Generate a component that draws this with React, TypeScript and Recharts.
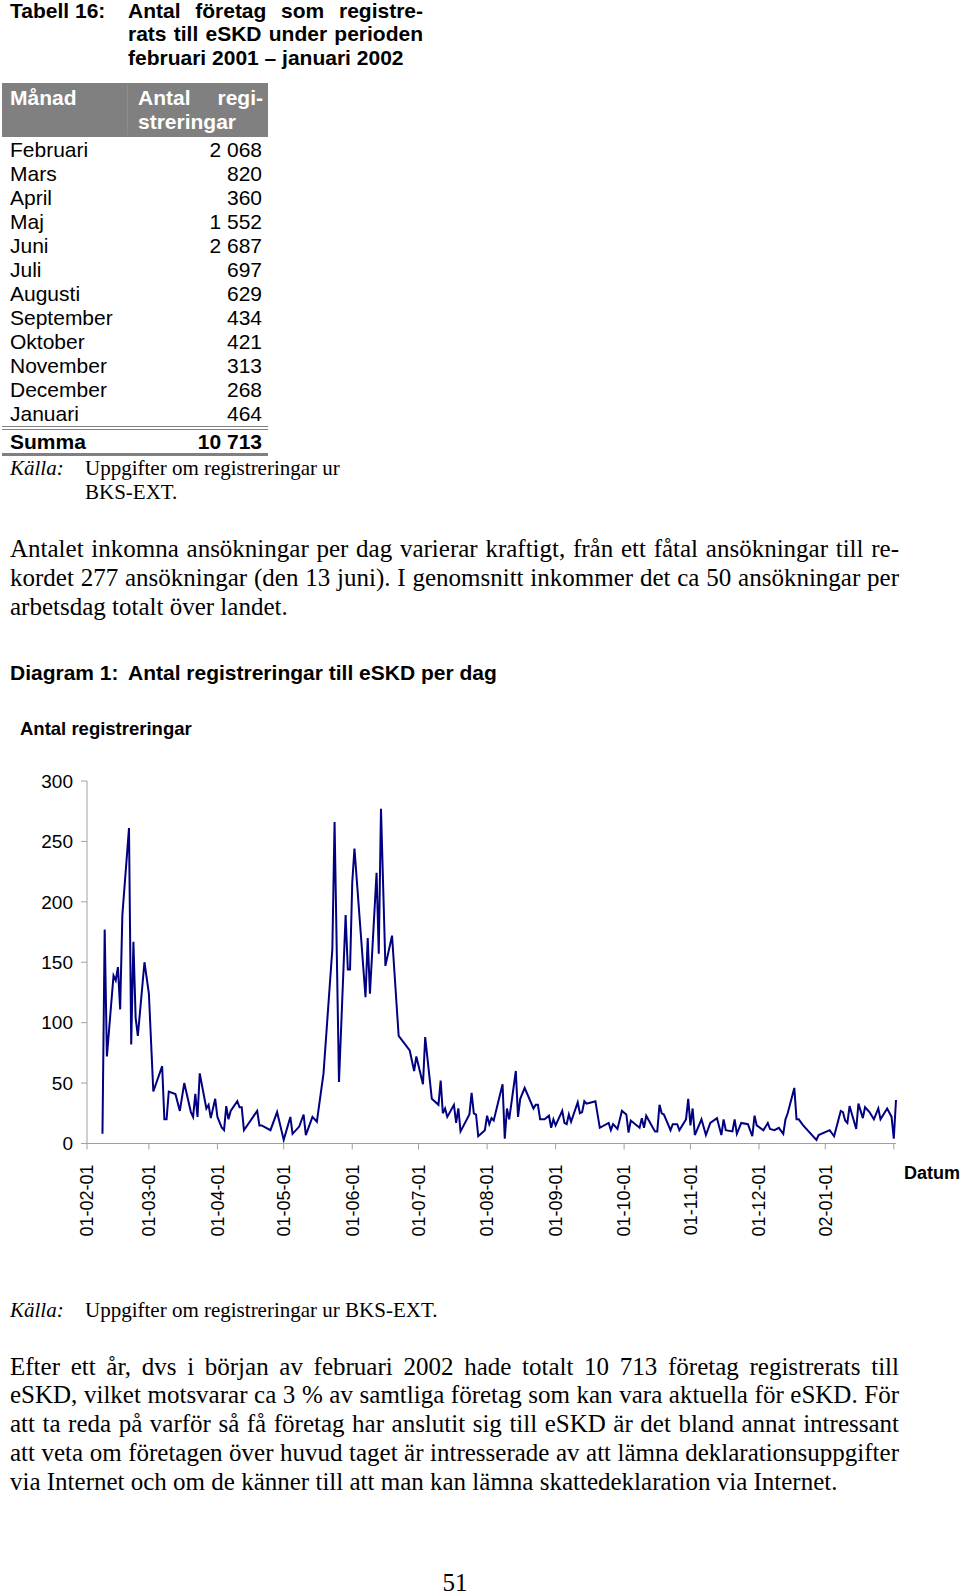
import { Line, LineChart, XAxis, YAxis } from "recharts"

// Tabell 16: registrations per month, Feb 2001 - Jan 2002
const tableMonths = [
  "Februari", "Mars", "April", "Maj", "Juni", "Juli",
  "Augusti", "September", "Oktober", "November", "December", "Januari",
]
const tableCounts = [2068, 820, 360, 1552, 2687, 697, 629, 434, 421, 313, 268, 464]

// Diagram 1: days since 2001-02-01 and registrations that day
const dayIndex = [
  7, 8, 9, 12, 13, 14, 15, 16, 19, 20, 21, 22, 23, 26, 28, 30, 34, 35, 36, 37,
  40, 42, 44, 47, 48, 49, 50, 51, 54, 55, 56, 58, 59, 61, 62, 63, 64, 65, 68, 69,
  70, 71, 77, 78, 79, 83, 86, 89, 92, 93, 96, 98, 99, 102, 104, 107, 111, 112, 114, 117,
  118, 119, 120, 121, 126, 127, 128, 131, 132, 133, 135, 138, 141, 146, 148, 149, 152, 153, 156, 159,
  160, 161, 162, 163, 166, 167, 168, 169, 173, 174, 175, 176, 177, 180, 181, 182, 183, 184, 188, 189,
  190, 191, 194, 195, 196, 198, 202, 203, 204, 205, 207, 209, 210, 211, 212, 215, 216, 217, 218, 219,
  222, 223, 224, 225, 226, 228, 230, 232, 236, 237, 238, 240, 242, 244, 245, 246, 250, 251, 252, 253,
  256, 257, 258, 259, 260, 261, 264, 265, 267, 268, 271, 272, 273, 274, 275, 278, 280, 282, 285, 287,
  288, 289, 292, 293, 294, 296, 299, 301, 302, 303, 306, 308, 309, 311, 313, 315, 316, 317, 320, 321,
  322, 324, 330, 331, 336, 338, 341, 342, 343, 344, 345, 348, 349, 351, 352, 354, 356, 358, 359, 362,
  364, 365, 366,
]
const registrations = [
  8, 177, 72, 139, 135, 146, 111, 189, 261, 82, 167, 104, 89, 150, 124, 43, 64, 20, 20, 43,
  41, 27, 50, 26, 22, 41, 22, 58, 29, 32, 21, 37, 22, 13, 11, 31, 20, 27, 35, 30,
  30, 11, 27, 15, 15, 11, 26, 3, 22, 8, 14, 24, 7, 22, 18, 58, 161, 266, 51, 189,
  144, 144, 216, 244, 121, 170, 124, 224, 157, 277, 147, 172, 89, 77, 60, 72, 49, 88, 37, 32,
  52, 25, 29, 22, 32, 17, 29, 10, 24, 42, 25, 24, 6, 11, 23, 16, 21, 19, 49, 4,
  29, 20, 60, 22, 37, 46, 29, 32, 32, 20, 20, 23, 13, 20, 15, 27, 17, 16, 24, 18,
  34, 25, 26, 35, 33, 34, 35, 13, 17, 11, 16, 12, 27, 24, 9, 19, 13, 21, 13, 23,
  13, 10, 10, 32, 25, 24, 11, 16, 16, 11, 20, 37, 15, 29, 7, 20, 7, 17, 21, 7,
  20, 11, 10, 20, 8, 17, 16, 6, 23, 15, 11, 17, 12, 11, 13, 8, 20, 25, 46, 20,
  20, 15, 3, 7, 11, 6, 27, 26, 19, 17, 31, 12, 33, 21, 30, 26, 20, 29, 20, 29,
  22, 4, 36,
]

const monthTicks = [0, 28, 59, 89, 120, 150, 181, 212, 243, 273, 304, 334, 365]
const dateLabels = [
  "01-02-01", "01-03-01", "01-04-01", "01-05-01", "01-06-01", "01-07-01",
  "01-08-01", "01-09-01", "01-10-01", "01-11-01", "01-12-01", "02-01-01", "",
]
const valueTicks = [0, 50, 100, 150, 200, 250, 300]

const chartData = dayIndex.map((day, i) => ({ day, value: registrations[i] }))

const serif = '"Liberation Serif", "Times New Roman", serif'
const sans = '"Liberation Sans", Arial, sans-serif'
const grey = "#808080"

const fmt = (n: number) => String(n).replace(/\B(?=(\d{3})+(?!\d))/g, " ")

// places one line of text with its vertical centre at y
function T({ x, y, lh = 24, w, justify, style, children }: any) {
  return (
    <div
      style={{
        position: "absolute",
        left: x,
        top: y - lh / 2,
        lineHeight: `${lh}px`,
        whiteSpace: "nowrap",
        width: w,
        textAlign: justify ? "justify" : undefined,
        textAlignLast: justify ? "justify" : undefined,
        ...style,
      }}
    >
      {children}
    </div>
  )
}

function DateTick({ x, y, payload }: any) {
  const i = monthTicks.indexOf(payload.value)
  return (
    <text
      x={x}
      y={y}
      transform={`rotate(-90, ${x}, ${y})`}
      textAnchor="end"
      dy="0.35em"
      fontSize={18}
      fontFamily={sans}
      fill="#000"
    >
      {dateLabels[i]}
    </text>
  )
}

export default function App() {
  const tbl = { fontFamily: sans, fontSize: 21, color: "#000" }
  const body = { fontFamily: serif, fontSize: 25, color: "#000" }
  const small = { fontFamily: serif, fontSize: 21, color: "#000" }
  const total = tableCounts.reduce((a, b) => a + b, 0)

  return (
    <div style={{ position: "absolute", left: 0, top: 0, width: 960, height: 1595, background: "#fff", overflow: "hidden" }}>
      {/* table caption */}
      <T x={10} y={10.5} lh={21} style={{ ...tbl, fontWeight: "bold" }}>Tabell 16:</T>
      <T x={128} y={10.5} lh={21} w={295} justify style={{ ...tbl, fontWeight: "bold" }}>Antal företag som registre-</T>
      <T x={128} y={34} w={295} justify style={{ ...tbl, fontWeight: "bold" }}>rats till eSKD under perioden</T>
      <T x={128} y={58} style={{ ...tbl, fontWeight: "bold" }}>februari 2001 – januari 2002</T>

      {/* table header */}
      <div style={{ position: "absolute", left: 2, top: 83, width: 266, height: 54, background: grey }} />
      <div style={{ position: "absolute", left: 127, top: 85, width: 1, height: 50, background: "#8d8d8d" }} />
      <T x={10} y={98} style={{ ...tbl, fontWeight: "bold", color: "#fff" }}>Månad</T>
      <T x={138} y={98} w={125} justify style={{ ...tbl, fontWeight: "bold", color: "#fff" }}>Antal regi-</T>
      <T x={138} y={122} style={{ ...tbl, fontWeight: "bold", color: "#fff" }}>streringar</T>

      {tableMonths.map((m, i) => (
        <div key={m}>
          <T x={10} y={150 + 24 * i} style={tbl}>{m}</T>
          <T x={142} y={150 + 24 * i} w={120} style={{ ...tbl, textAlign: "right" }}>{fmt(tableCounts[i])}</T>
        </div>
      ))}

      <div style={{ position: "absolute", left: 2, top: 426, width: 266, height: 1, background: grey }} />
      <div style={{ position: "absolute", left: 2, top: 429, width: 266, height: 1, background: grey }} />
      <T x={10} y={442} style={{ ...tbl, fontWeight: "bold" }}>Summa</T>
      <T x={142} y={442} w={120} style={{ ...tbl, fontWeight: "bold", textAlign: "right" }}>{fmt(total)}</T>
      <div style={{ position: "absolute", left: 2, top: 453, width: 266, height: 3, background: grey }} />

      <T x={10} y={468} style={{ ...small, fontStyle: "italic" }}>Källa:</T>
      <T x={85} y={468} style={small}>Uppgifter om registreringar ur</T>
      <T x={85} y={492} style={small}>BKS-EXT.</T>

      {/* paragraph 1 */}
      <T x={10} y={548} lh={29} w={889} justify style={body}>
        Antalet inkomna ansökningar per dag varierar kraftigt, från ett fåtal ansökningar till re-
      </T>
      <T x={10} y={577} lh={29} w={889} justify style={body}>
        kordet 277 ansökningar (den 13 juni). I genomsnitt inkommer det ca 50 ansökningar per
      </T>
      <T x={10} y={606} lh={29} style={body}>arbetsdag totalt över landet.</T>

      {/* diagram caption */}
      <T x={10} y={673} style={{ ...tbl, fontWeight: "bold" }}>Diagram 1:</T>
      <T x={128} y={673} style={{ ...tbl, fontWeight: "bold" }}>Antal registreringar till eSKD per dag</T>
      <T x={20} y={729} style={{ ...tbl, fontSize: 18.5, fontWeight: "bold" }}>Antal registreringar</T>
      <T x={904} y={1173} style={{ ...tbl, fontSize: 18, fontWeight: "bold" }}>Datum</T>

      <div style={{ position: "absolute", left: 0, top: 740 }}>
        <LineChart width={960} height={520} data={chartData} margin={{ top: 41, right: 64, left: 0, bottom: 0 }}>
          <XAxis
            type="number"
            dataKey="day"
            domain={[0, 366]}
            ticks={monthTicks}
            interval={0}
            height={116.5}
            tickSize={6}
            tickMargin={15}
            stroke="#a0a0a0"
            tick={<DateTick />}
          />
          <YAxis
            type="number"
            domain={[0, 300]}
            ticks={valueTicks}
            interval={0}
            width={87}
            tickSize={6}
            tickMargin={8}
            stroke="#a0a0a0"
            tick={{ fill: "#000", fontSize: 19, fontFamily: sans }}
          />
          <Line
            type="linear"
            dataKey="value"
            stroke="#000080"
            strokeWidth={2}
            dot={false}
            isAnimationActive={false}
          />
        </LineChart>
      </div>

      <T x={10} y={1310} style={{ ...small, fontStyle: "italic" }}>Källa:</T>
      <T x={85} y={1310} style={small}>Uppgifter om registreringar ur BKS-EXT.</T>

      {/* paragraph 2 */}
      <T x={10} y={1366} lh={29} w={889} justify style={body}>
        Efter ett år, dvs i början av februari 2002 hade totalt 10 713 företag registrerats till
      </T>
      <T x={10} y={1394.5} lh={29} w={889} justify style={body}>
        eSKD, vilket motsvarar ca 3 % av samtliga företag som kan vara aktuella för eSKD. För
      </T>
      <T x={10} y={1423.5} lh={29} w={889} justify style={body}>
        att ta reda på varför så få företag har anslutit sig till eSKD är det bland annat intressant
      </T>
      <T x={10} y={1452} lh={29} w={889} justify style={body}>
        att veta om företagen över huvud taget är intresserade av att lämna deklarationsuppgifter
      </T>
      <T x={10} y={1481} lh={29} style={body}>
        via Internet och om de känner till att man kan lämna skattedeklaration via Internet.
      </T>

      <T x={405} y={1583} w={100} lh={22} style={{ ...body, textAlign: "center" }}>51</T>
    </div>
  )
}
